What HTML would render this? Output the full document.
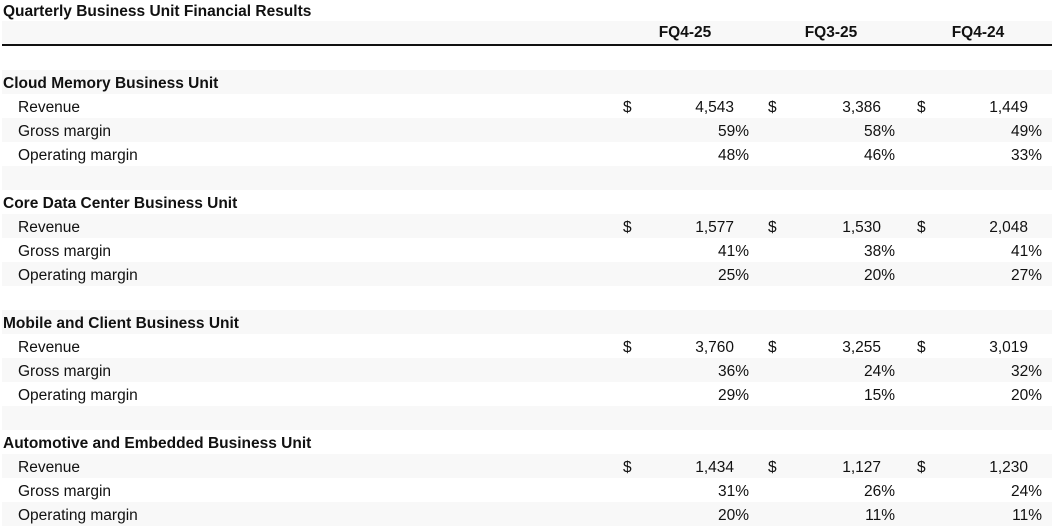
<!DOCTYPE html>
<html><head><meta charset="utf-8"><style>
body{margin:0;width:1054px;height:528px;background:#fff;font-family:"Liberation Sans",sans-serif;font-size:15.5px;color:#111;position:relative;overflow:hidden}
.t{position:absolute;left:3px;top:1px;font-weight:bold;line-height:21px}
.r{position:absolute;left:2px;width:1050px;height:24px;line-height:24px}
.g{background:#f8f8f8}
.r span{position:absolute;white-space:nowrap;top:2px}
.b{font-weight:bold}
.hl{position:absolute;left:2px;width:1050px;top:44px;height:1.5px;background:#111}
</style></head><body>
<div class="t">Quarterly Business Unit Financial Results</div>
<div class="r g b" style="top:21px">
<span style="left:633px;width:100px;text-align:center;top:0">FQ4-25</span>
<span style="left:779px;width:100px;text-align:center;top:0">FQ3-25</span>
<span style="left:926px;width:100px;text-align:center;top:0">FQ4-24</span>
</div>
<div class="hl"></div>
<div id="body"></div>
<script>
const units=["Cloud Memory Business Unit","Core Data Center Business Unit","Mobile and Client Business Unit","Automotive and Embedded Business Unit"];
const revenue=[["4,543","3,386","1,449"],["1,577","1,530","2,048"],["3,760","3,255","3,019"],["1,434","1,127","1,230"]];
const gross=[["59%","58%","49%"],["41%","38%","41%"],["36%","24%","32%"],["31%","26%","24%"]];
const opm=[["48%","46%","33%"],["25%","20%","27%"],["29%","15%","20%"],["20%","11%","11%"]];
const body=document.getElementById('body');
const dollarX=[621,766,915],numEnd=[734,881,1028],pctEnd=[749,895,1042];
let row=0;
function mk(top){const d=document.createElement('div');d.className='r'+(row%2==0?' g':'');d.style.top=top+'px';row++;body.appendChild(d);return d;}
function sp(p,txt,style){const s=document.createElement('span');s.textContent=txt;s.style.cssText=style;p.appendChild(s);return s;}
let y=46;
const blank0=mk(y);blank0.className='r';row=0;y+=24;
units.forEach((u,i)=>{
 const h=mk(y);y+=24;h.classList.add('b');
 
 
 sp(h,u,'left:1px');
 const rv=mk(y);y+=24;
 
 
 sp(rv,'Revenue','left:16px');
 revenue[i].forEach((v,j)=>{sp(rv,'$','left:'+dollarX[j]+'px');sp(rv,v,'right:'+(1050-numEnd[j]+2)+'px');});
 [[gross,'Gross margin','gross-margin-row'],[opm,'Operating margin','operating-margin-row']].forEach(([arr,lab,nm])=>{
  const r=mk(y);y+=24;
  
  
  sp(r,lab,'left:16px');
  arr[i].forEach((v,j)=>sp(r,v,'right:'+(1050-pctEnd[j]+2)+'px'));
 });
 if(i<units.length-1){const b=mk(y);y+=24;
  
  }
});
</script>
</body></html>
